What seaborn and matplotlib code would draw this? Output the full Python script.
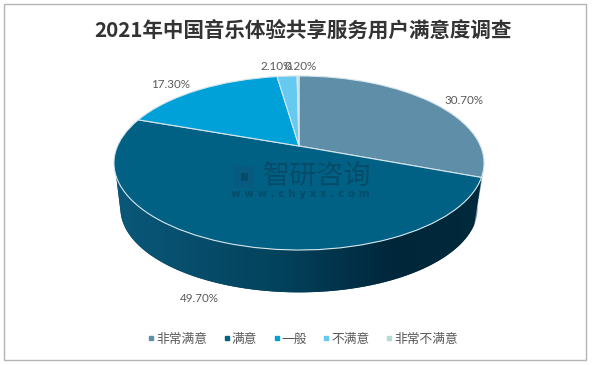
import numpy as np
import matplotlib
matplotlib.use('Agg')
import matplotlib.pyplot as plt
import seaborn as sns
from matplotlib.colors import LinearSegmentedColormap
from matplotlib.lines import Line2D
from matplotlib.patches import Polygon, Rectangle
from matplotlib.transforms import Transform

# data
categories = ['非常满意', '满意', '一般', '不满意', '非常不满意']
shares = [30.7, 49.7, 17.3, 2.1, 0.2]
share_labels = ['30.70%', '49.70%', '17.30%', '2.10%', '0.20%']
colors = ['#5f8ea8', '#006184', '#00a0d8', '#66c9f0', '#b5dbd6']
title = '2021年中国音乐体验共享服务用户满意度调查'

sns.set_theme(style='white')
plt.rcParams['font.family'] = ['Noto Sans CJK SC', 'DejaVu Sans']

# tilt of the pie, same numbers for top face and base
CX, CY = 299, 146
A, B, K = 83.7, 181.5, 0.195
DEPTH, BASE_SCALE = 46, 0.965


def project(x, y, dy=0, s=1.0):
    w = 1 + K * y
    return CX + s * B * x / w, CY + dy - s * A * y / w


class Tilt(Transform):
    input_dims = output_dims = 2

    def transform_non_affine(self, values):
        px, py = project(values[:, 0], values[:, 1])
        return np.column_stack([px, py])


def side_points(top1, top2, base1, base2):
    # top arc and base arc have their own ends so the outline meets at the tangent
    t = np.radians(np.linspace(top1, top2, 120))
    b = np.radians(np.linspace(base1, base2, 120))
    x1, y1 = project(np.cos(t), np.sin(t))
    x2, y2 = project(np.cos(b), np.sin(b), DEPTH, BASE_SCALE)
    return np.r_[np.column_stack([x1, y1]), np.column_stack([x2, y2])[::-1]]


fig = plt.figure(figsize=(6, 3.65), dpi=100)
ax = fig.add_axes([0, 0, 1, 1])
ax.set_xlim(0, 600)
ax.set_ylim(365, 0)
ax.axis('off')
ax.add_patch(Rectangle((4, 4), 582, 356, fc='white', ec='#b4b4b4', lw=1))

# sides, only the two slices at the front show one
cum = np.cumsum([0] + shares) * 3.6
edge = 90 - cum[1]
side1 = Polygon(side_points(edge, -15, edge - 1.5, -10), fc='#6f8f9f', ec='none')
ax.add_patch(side1)
side2 = Polygon(side_points(-160, edge, -166, edge - 1.5), fc='#003a52', ec='none')
ax.add_patch(side2)
cmap = LinearSegmentedColormap.from_list('side', [
    (0, '#0a587a'), (0.45, '#03425c'), (0.76, '#00263a'), (1, '#012a3c')])
img = ax.imshow(np.linspace(0, 1, 256)[None, :], cmap=cmap, aspect='auto',
                extent=(114, 484, 300, 150), zorder=1.5)
img.set_clip_path(side2)
ax.set_xlim(0, 600)
ax.set_ylim(365, 0)

# top face
wedges, _ = ax.pie(shares, colors=colors, startangle=90, counterclock=False,
                   wedgeprops=dict(edgecolor='#d6e6ec', linewidth=0.8), radius=1)
for w in wedges:
    w.set_transform(Tilt() + ax.transData)
    w.set_zorder(2)
ax.set_aspect('auto')
ax.set_xlim(0, 600)
ax.set_ylim(365, 0)

# slice labels
label_pos = [(464, 101), (199, 299), (171, 84), (277, 66), (301, 66)]
for s, (lx, ly) in zip(share_labels, label_pos):
    ax.text(lx, ly, s, ha='center', va='center', fontsize=8.4,
            color='#595959', family=['Lato', 'DejaVu Sans'], zorder=4)

ax.text(302.5, 31, title, ha='center', va='center', fontsize=14.8,
        fontweight='bold', color='#333333', zorder=4)

# watermark
wm = '#0b3a55'
ax.text(317, 176, '智研咨询', ha='center', va='center', fontsize=19.5,
        color=wm, alpha=0.55, fontweight='medium', zorder=3)
ax.text(300, 194, 'w w w . c h y x x . c o m', ha='center', va='center',
        fontsize=7.5, color=wm, alpha=0.55, fontweight='bold',
        family=['DejaVu Sans'], zorder=3)
ax.add_patch(Rectangle((234, 166), 20, 22, fc='#0a5a80', ec='none', alpha=0.8, zorder=3))
ax.add_patch(Rectangle((241, 173), 7, 8, fc=wm, ec='none', alpha=0.5, zorder=3))

# legend
handles = [Line2D([], [], ls='none', marker='s', ms=2.8, mfc=c, mec=c) for c in colors]
ax.legend(handles, categories, loc='center', bbox_to_anchor=(303 / 600, 1 - 339 / 365),
          ncol=5, frameon=False, fontsize=9.2, labelcolor='#595959', handlelength=0.5,
          handletextpad=0.15, columnspacing=1.25, borderpad=0)

fig.savefig('out.png', dpi=100)
